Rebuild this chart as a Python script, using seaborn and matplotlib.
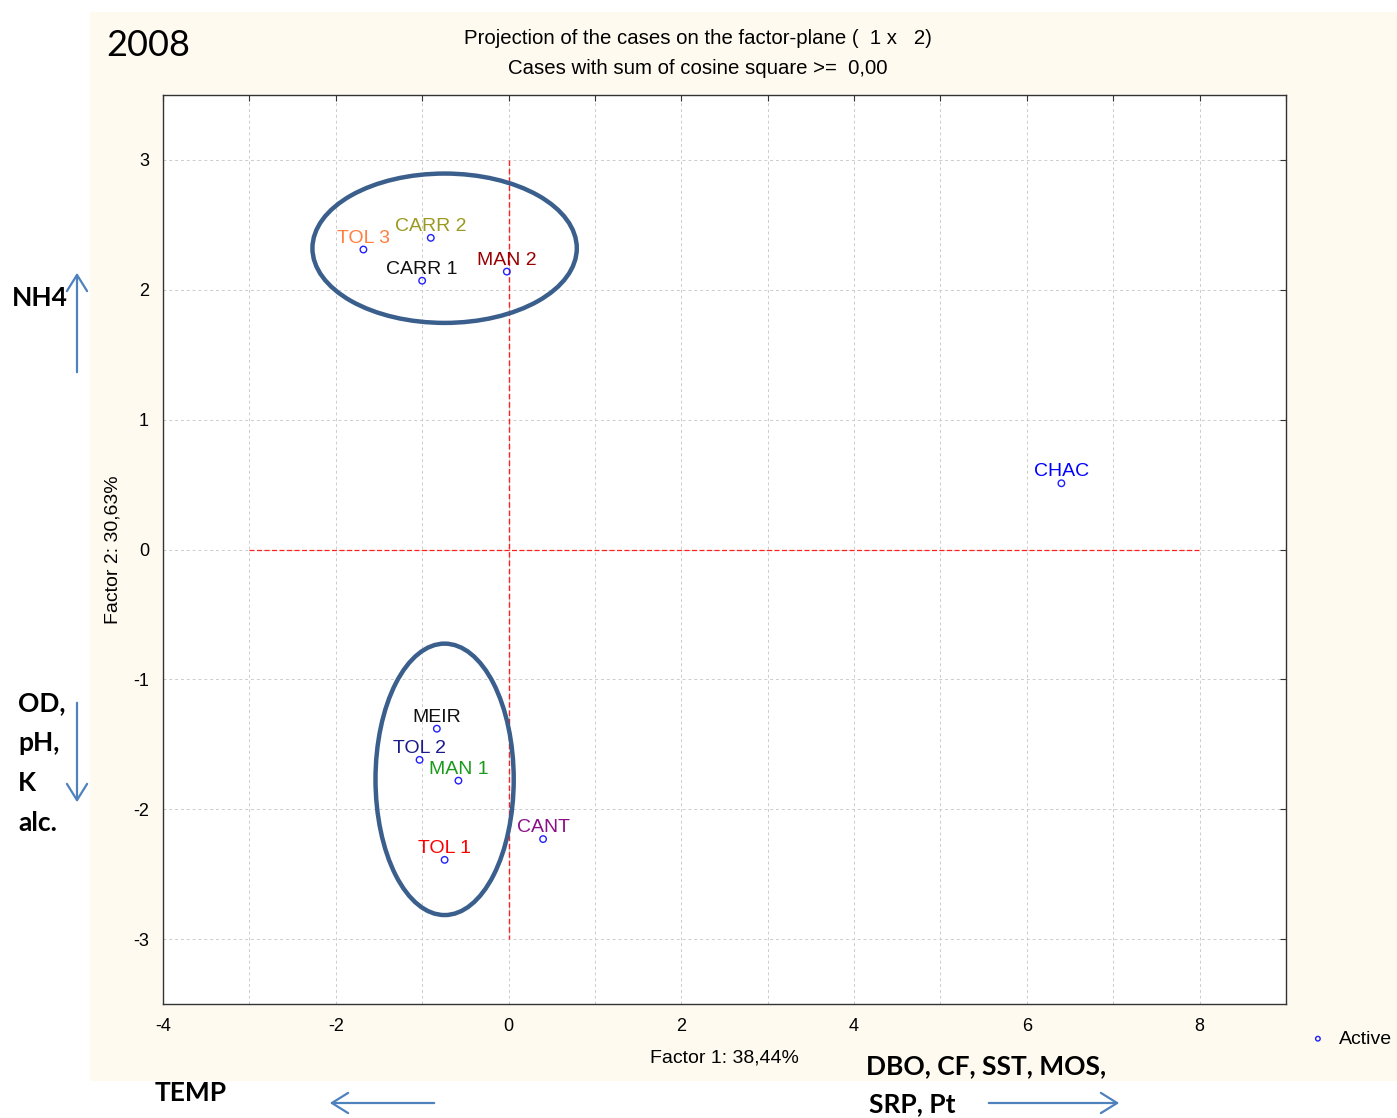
import matplotlib
matplotlib.use("Agg")
import matplotlib.pyplot as plt
from matplotlib.patches import Ellipse, Rectangle, FancyArrowPatch
import matplotlib.ticker as mticker
import pandas as pd
import seaborn as sns

# ---------------------------------------------------------------------------
# Data (factor scores)
# ---------------------------------------------------------------------------
cases = ["TOL 3", "CARR 2", "CARR 1", "MAN 2", "CHAC", "MEIR", "TOL 2", "MAN 1", "CANT", "TOL 1"]
factor1 = [-1.68, -0.90, -1.00, -0.02, 6.40, -0.83, -1.03, -0.58, 0.40, -0.74]
factor2 = [2.31, 2.40, 2.07, 2.14, 0.51, -1.38, -1.62, -1.78, -2.23, -2.39]
label_colors = ["#ff7f3f", "#9a9a20", "#111111", "#990000", "#0000ff",
                "#111111", "#1a1a8c", "#1a9a1a", "#8a108a", "#ff0000"]

# origin reference lines
hline_x = [-3, 8]
hline_y = [0, 0]
vline_x = [0, 0]
vline_y = [3, -3]

# group ellipses (center x, center y, width, height)
group_cx = [-0.74, -0.74]
group_cy = [2.32, -1.77]
group_w = [3.06, 1.60]
group_h = [1.15, 2.09]

df = pd.DataFrame({"case": cases, "f1": factor1, "f2": factor2})

W, H = 1397, 1118
BLUE_ARROW = "#4f81bd"
ELLIPSE = "#3b5f8c"


def px(x, y):
    return (x / W, 1 - y / H)


sns.set_style("white")
plt.rcParams["font.family"] = ["Liberation Sans", "DejaVu Sans"]
plt.rcParams["axes.unicode_minus"] = False
for k in ["text.color", "axes.labelcolor", "xtick.color", "ytick.color"]:
    plt.rcParams[k] = "black"

fig = plt.figure(figsize=(W / 100, H / 100), dpi=100, facecolor="white")
fig.patches.append(Rectangle(px(90, 1081), (W - 90) / W, (1081 - 12) / H,
                             transform=fig.transFigure, facecolor="#fefaf0",
                             edgecolor="none", zorder=-10))

ax = fig.add_axes([163 / W, 1 - 1004 / H, (1286 - 163) / W, (1004 - 95) / H])
ax.set_facecolor("white")

# reference lines through the origin
ax.plot(hline_x, hline_y, color="#ff2020", lw=0.9, ls=(0, (4, 2)), zorder=2)
ax.plot(vline_x, vline_y, color="#ff2020", lw=1.0, ls=(0, (4, 2)), zorder=2)

sns.scatterplot(data=df, x="f1", y="f2", ax=ax, marker="o", s=22,
                fc="none", ec="#2020ff", linewidth=1.0, label="Active", zorder=4)

for name, x, y, c in zip(cases, factor1, factor2, label_colors):
    ax.annotate(name, (x, y), xytext=(0, 5), textcoords="offset points",
                ha="center", va="baseline", color=c, fontsize=14, zorder=5)

for cx, cy, w, h in zip(group_cx, group_cy, group_w, group_h):
    ax.add_patch(Ellipse((cx, cy), w, h, facecolor="none", edgecolor=ELLIPSE,
                         lw=3.2, zorder=3))

ax.set_xlim(-4, 9)
ax.set_ylim(-3.5, 3.5)
ax.xaxis.set_major_locator(mticker.MultipleLocator(2))
ax.xaxis.set_minor_locator(mticker.MultipleLocator(1))
ax.yaxis.set_major_locator(mticker.MultipleLocator(1))
ax.grid(True, which="both", color="#cccccc", ls=(0, (3, 3)), lw=0.7)
ax.set_axisbelow(True)
ax.tick_params(which="both", direction="in", top=True, right=True,
               length=4, width=0.8, color="#333333", labelsize=13, pad=10)
for s in ax.spines.values():
    s.set_edgecolor("#333333")
    s.set_linewidth(1.0)

ax.set_xlabel("Factor 1: 38,44%", fontsize=14)
ax.set_ylabel("Factor 2: 30,63%", fontsize=14)
ax.xaxis.set_label_coords(0.5, -0.05)
ax.yaxis.set_label_coords(-0.037, 0.5)

leg = ax.legend(loc="center left", bbox_to_anchor=(1.018, -0.0385), frameon=False,
                fontsize=14, handletextpad=0.5, handlelength=1.2, borderpad=0,
                borderaxespad=0, markerscale=0.7)

# titles
fig.text(*px(698, 39), "Projection of the cases on the factor-plane (  1 x   2)",
         ha="center", va="center", fontsize=14.7)
fig.text(*px(698, 69), "Cases with sum of cosine square >=  0,00",
         ha="center", va="center", fontsize=14.7)
fig.text(*px(106, 46), "2008", ha="left", va="center", fontsize=26, family="Lato")

# variable annotations around the plot
bold = dict(family="Lato", fontweight="bold", fontsize=19, color="black")
fig.text(*px(12, 298), "NH4", ha="left", va="center", **bold)
for i, t in enumerate(["OD,", "pH,", "K", "alc."]):
    fig.text(*px(18, 703 + 40 * i), t, ha="left", va="center", **bold)
fig.text(*px(155, 1093), "TEMP", ha="left", va="center", **bold)
fig.text(*px(866, 1066), "DBO, CF, SST, MOS,", ha="left", va="center", **bold)
fig.text(*px(869, 1104), "SRP, Pt", ha="left", va="center", **bold)

arrows = [((77, 375), (77, 270)), ((77, 700), (77, 805)),
          ((437, 1103), (327, 1103)), ((986, 1103), (1122, 1103))]
for a, b in arrows:
    fig.add_artist(FancyArrowPatch(px(*a), px(*b), transform=fig.transFigure,
                                   arrowstyle="->,head_length=0.45,head_width=0.28",
                                   mutation_scale=26, color=BLUE_ARROW, lw=1.6))

fig.savefig("out.png", dpi=100)
